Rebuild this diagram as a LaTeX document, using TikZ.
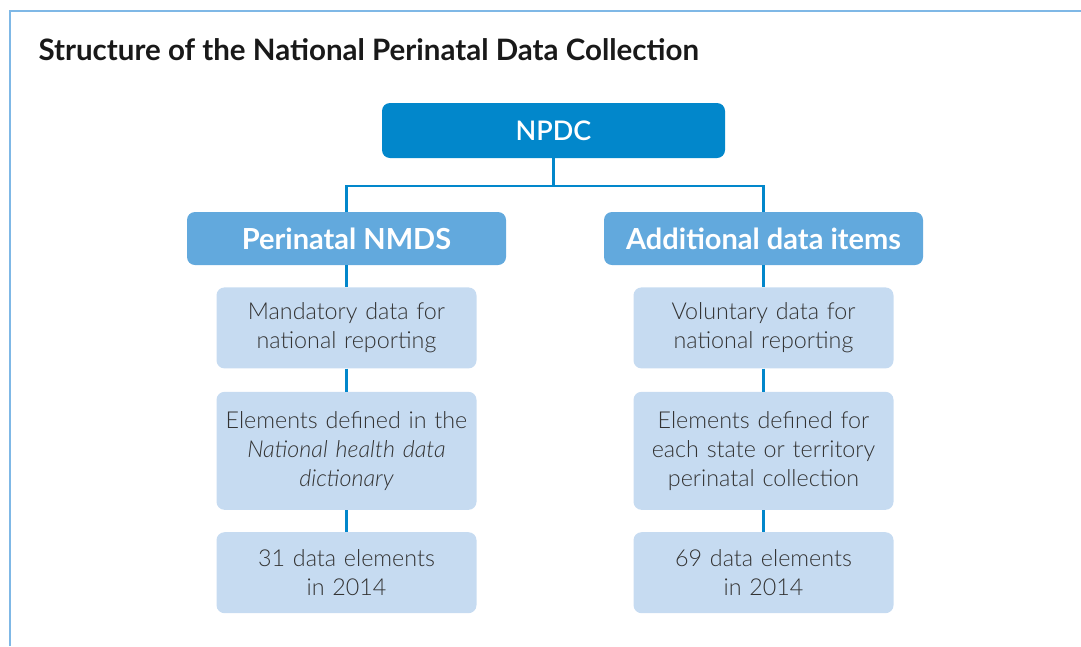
\documentclass[tikz,border=0pt]{standalone}
\usepackage{fontspec}
\setmainfont{Lato}
\newfontfamily\thinfont{Lato Light}
\newfontfamily\semifont{Lato Semibold}
\usetikzlibrary{positioning}
\definecolor{npdcblue}{HTML}{0287CB}
\definecolor{midblue}{HTML}{62A9DD}
\definecolor{paleblue}{HTML}{C6DBF1}
\definecolor{frameblue}{HTML}{7FB8E6}
\definecolor{inkgray}{HTML}{333333}
\tikzset{
  topbox/.style={rectangle, fill=npdcblue, rounded corners=8pt, text=white,
                 minimum width=343pt, minimum height=55pt,
                 font=\semifont\fontsize{27}{32}\selectfont},
  midbox/.style={rectangle, fill=midblue, rounded corners=8pt, text=white,
                 minimum width=319pt, minimum height=53pt,
                 font=\fontsize{29}{32}\selectfont\bfseries},
  subbox/.style={rectangle, fill=paleblue, rounded corners=8pt, text=inkgray,
                 minimum width=260pt, minimum height=81pt, text width=250pt,
                 align=center, inner sep=0pt,
                 font=\thinfont\fontsize{23.3}{29}\selectfont},
  link/.style={draw=npdcblue, line width=2.4pt},
  frameline/.style={draw=frameblue, line width=2pt},
}
\begin{document}
\begin{tikzpicture}[x=1pt, y=-1pt]
  \useasboundingbox (0,0) rectangle (1081,646);
  % --- Frame and title ---
  \draw[frameline] (10,646) |- (1081,11);
  \node[anchor=base west, font=\fontsize{29.5}{33}\selectfont\bfseries, text=black!90]
    (title) at (35,60) {Structure of the National Perinatal Data Collection};

  % --- Top level ---
  \node[topbox] (npdc) at (553.5,130.5) {NPDC};

  % --- Second level ---
  \node[midbox] (nmds) at (346.5,238.5) {Perinatal NMDS};
  \node[midbox] (extra) at (763.5,238.5) {Additional data items};

  % --- Perinatal NMDS column ---
  \node[subbox, below=22pt of nmds] (nmdsA) {Mandatory data for\\national reporting};
  \node[subbox, below=23pt of nmdsA, minimum height=118pt] (nmdsB)
    {Elements defined in the\\\itshape National health data\\dictionary};
  \node[subbox, below=22pt of nmdsB] (nmdsC) {31 data elements\\in 2014};

  % --- Additional data items column ---
  \node[subbox, below=22pt of extra] (extraA) {Voluntary data for\\national reporting};
  \node[subbox, below=23pt of extraA, minimum height=118pt] (extraB)
    {Elements defined for\\each state or territory\\perinatal collection};
  \node[subbox, below=22pt of extraB] (extraC) {69 data elements\\in 2014};

  % --- Connectors ---
  \draw[link] (npdc.south) -- ++(0,28) -| (nmds.north);
  \draw[link] (npdc.south) -- ++(0,28) -| (extra.north);
  \draw[link] (nmds) -- (nmdsA);
  \draw[link] (nmdsA) -- (nmdsB);
  \draw[link] (nmdsB) -- (nmdsC);
  \draw[link] (extra) -- (extraA);
  \draw[link] (extraA) -- (extraB);
  \draw[link] (extraB) -- (extraC);
\end{tikzpicture}
\end{document}
